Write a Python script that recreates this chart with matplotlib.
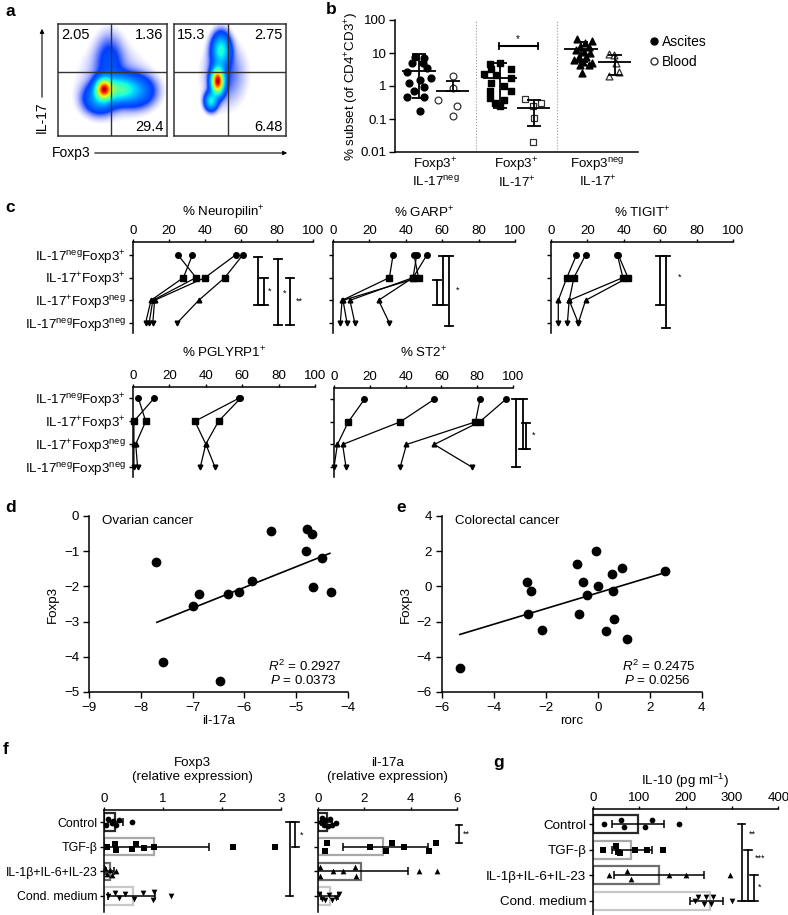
import numpy as np
import matplotlib.pyplot as plt
from matplotlib.lines import Line2D
from matplotlib.patches import FancyArrowPatch

plt.rcParams['font.family'] = ['Liberation Sans', 'DejaVu Sans']
plt.rcParams['mathtext.fontset'] = 'custom'
plt.rcParams['mathtext.rm'] = 'Liberation Sans'
plt.rcParams['mathtext.it'] = 'Liberation Sans:italic'
plt.rcParams['mathtext.default'] = 'regular'
plt.rcParams['font.size'] = 9.5
plt.rcParams['axes.linewidth'] = 1.1
plt.rcParams['xtick.major.width'] = 1.0
plt.rcParams['ytick.major.width'] = 1.0

FS = 9.6

# ---------------- data ----------------
# a: flow plots (quadrant percentages, density blobs cx, cy, sx, sy, weight)
a_left_quads = ['2.05', '1.36', '29.4']
a_right_quads = ['15.3', '2.75', '6.48']
a_left_blobs = [(0.42, 0.42, 0.045, 0.055, 1.0), (0.55, 0.42, 0.10, 0.07, 0.4),
                (0.72, 0.40, 0.11, 0.09, 0.18), (0.47, 0.68, 0.08, 0.15, 0.08),
                (0.38, 0.33, 0.09, 0.08, 0.22), (0.5, 0.5, 0.2, 0.2, 0.04)]
a_right_blobs = [(0.39, 0.49, 0.035, 0.07, 1.0), (0.42, 0.77, 0.05, 0.09, 0.3),
                 (0.33, 0.31, 0.035, 0.05, 0.28), (0.45, 0.55, 0.12, 0.18, 0.05)]

# b: % subset, ascites vs blood
b_groups = ['Foxp3$^{+}$\nIL-17$^{neg}$', 'Foxp3$^{+}$\nIL-17$^{+}$', 'Foxp3$^{neg}$\nIL-17$^{+}$']
b_asc_vals = [[7.7, 6.9, 4.9, 4.9, 3.4, 2.7, 1.8, 1.5, 1.2, 0.95, 0.72, 0.47, 0.47, 0.17],
              [4.6, 4.9, 3.2, 3.2, 2.3, 2.15, 1.7, 1.2, 1.0, 0.72, 0.72, 0.42, 0.38, 0.30, 0.24],
              [26, 20.5, 23.6, 15.5, 15.5, 12.3, 11, 10.2, 7.7, 7.4, 6.1, 5.5, 5.1, 4.3, 4.3, 2.5]]
b_asc_jit = [[-0.25, -0.14, -0.29, -0.16, -0.10, -0.35, -0.06, -0.19, -0.33, -0.14, -0.27, -0.35, -0.14, -0.19],
             [-0.33, -0.20, -0.31, -0.07, -0.40, -0.25, -0.07, -0.32, -0.16, -0.33, -0.07, -0.33, -0.16, -0.27, -0.20],
             [-0.25, -0.15, -0.07, -0.21, -0.11, -0.27, -0.17, -0.09, -0.23, -0.14, -0.29, -0.18, -0.07, -0.21, -0.11, -0.19]]
b_asc_mean = [2.9, 1.7, 13]
b_asc_lo = [0.44, 0.22, 5.5]
b_asc_hi = [9.5, 5.0, 21]
b_bld_vals = [[2.0, 0.9, 0.38, 0.24, 0.12],
              [0.4, 0.3, 0.24, 0.11, 0.02],
              [9.3, 8.7, 4.9, 2.0, 2.7]]
b_bld_jit = [[0.21, 0.21, 0.03, 0.27, 0.21],
             [0.10, 0.30, 0.20, 0.21, 0.20],
             [0.14, 0.20, 0.23, 0.14, 0.26]]
b_bld_mean = [0.72, 0.21, 5.5]
b_bld_lo = [0.72, 0.063, 2.2]
b_bld_hi = [1.45, 0.38, 8.7]

# c: % positive per donor, rows = 4 subsets
c_rows = ['IL-17$^{neg}$Foxp3$^{+}$', 'IL-17$^{+}$Foxp3$^{+}$',
          'IL-17$^{+}$Foxp3$^{neg}$', 'IL-17$^{neg}$Foxp3$^{neg}$']
neuropilin = [[25, 35, 11, 9], [33, 28, 10, 7], [57, 40, 12, 11], [61, 51, 36.5, 24.5]]
neuropilin_br = [(69.6, 0.1, 2.2), (73, 1.0, 2.2), (80.7, 0.2, 3.1), (87, 1.0, 3.1)]
neuropilin_st = [(75, 1.6, '*'), (83, 1.7, '*'), (90.5, 2.05, '**')]
garp = [[33, 31, 5, 4], [44.5, 47, 5.5, 7.7], [51.6, 44, 9.3, 12], [46, 44, 25, 31]]
garp_br = [(57, 1.1, 2.2), (60.5, 0.05, 2.2), (64, 0.05, 3.15)]
garp_st = [(67.5, 1.55, '*')]
tigit = [[14, 8.7, 4, 4], [19, 12.6, 10, 9], [36.5, 39.5, 10, 15], [37, 42.3, 19, 15]]
tigit_br = [(60, 0.05, 2.2), (63, 0.05, 3.2)]
tigit_st = [(69.5, 1.0, '*')]
pglyrp1 = [[3, 7, 1.5, 2.5], [11.5, 0.5, 0.5, 0.5], [58, 34, 40, 45], [59, 47, 40, 37]]
st2 = [[17, 8, 1.9, 0], [56, 37, 4.8, 6.7], [81.6, 79, 40.5, 37], [96, 81.4, 56, 77]]
st2_br = [(101.5, 0.0, 3.0), (105.6, 0.0, 2.2), (107.5, 1.05, 2.2)]
st2_st = [(110.5, 1.6, '*')]

# d: ovarian cancer
d_x = [-7.71, -6.99, -6.87, -6.32, -6.11, -5.85, -5.49, -4.81, -4.80, -4.70, -4.67, -4.50, -4.33, -7.57, -6.48]
d_y = [-1.30, -2.55, -2.23, -2.23, -2.15, -1.84, -0.43, -0.99, -0.38, -0.51, -2.03, -1.18, -2.15, -4.14, -4.68]
d_fit_x = [-7.69, -4.35]
d_fit_y = [-3.02, -1.06]

# e: colorectal cancer
e_x = [-2.71, -2.58, -0.81, -0.58, -0.40, -0.07, 0.01, 0.55, 0.60, 0.93, 2.59, -2.67, -2.15, -0.72, 0.31, 0.62, 1.12, -5.30]
e_y = [0.24, -0.27, 1.25, 0.24, -0.51, 1.99, 0.00, 0.72, -0.27, 1.04, 0.85, -1.59, -2.46, -1.59, -2.54, -1.84, -2.97, -4.62]
e_fit_x = [-5.30, 2.65]
e_fit_y = [-2.73, 0.81]

# f / g: stimulation conditions
conds = ['Control', 'TGF-β', 'IL-1β+IL-6+IL-23', 'Cond. medium']
foxp3_mean = [0.19, 0.84, 0.10, 0.49]
foxp3_lo = [0.06, 0.0, 0.03, 0.07]
foxp3_hi = [0.32, 1.78, 0.17, 0.86]
foxp3_pts = [[0.03, 0.07, 0.13, 0.16, 0.21, 0.26, 0.47],
             [0.05, 0.19, 0.2, 0.47, 0.55, 0.68, 0.85, 2.19, 2.9],
             [0.02, 0.05, 0.1, 0.14, 0.2],
             [0.07, 0.19, 0.26, 0.36, 0.5, 0.66, 0.83, 0.85, 1.13]]
foxp3_jit = [[0.1, -0.12, 0.05, -0.05, 0.12, -0.1, 0.0],
             [0.0, -0.12, 0.12, 0.1, -0.1, 0.05, 0.0, 0.0, 0.0],
             [-0.15, 0.1, -0.05, 0.15, 0.0],
             [0.0, -0.12, 0.1, -0.1, 0.12, -0.12, 0.15, -0.15, 0.0]]
il17_mean = [0.36, 2.82, 1.85, 0.51]
il17_lo = [0.1, 1.05, 0.0, 0.1]
il17_hi = [0.6, 4.75, 3.9, 0.85]
il17_pts = [[0.1, 0.15, 0.25, 0.3, 0.4, 0.5, 0.6, 0.75],
            [0.36, 0.29, 2.25, 2.94, 3.19, 3.72, 4.78, 5.1],
            [0.09, 0.09, 0.62, 1.06, 1.6, 1.65, 4.35, 5.14],
            [0.05, 0.15, 0.3, 0.45, 0.6, 0.75, 0.9]]
il17_jit = [[0.0, -0.15, 0.12, -0.1, 0.15, -0.12, 0.1, 0.05],
            [-0.17, 0.17, 0.0, 0.17, -0.17, 0.0, 0.17, -0.17],
            [-0.17, 0.17, 0.0, 0.0, -0.17, 0.17, 0.0, 0.0],
            [-0.1, 0.12, 0.15, -0.05, 0.15, 0.1, -0.1]]
il10_mean = [97, 82.5, 143, 253]
il10_lo = [41, 41, 46, 210]
il10_hi = [154, 127, 240, 280]
il10_pts = [[24, 62, 67, 113, 128, 187],
            [21.5, 50, 55, 59, 91, 116, 152],
            [35, 73, 83, 164, 201, 296],
            [220, 226, 240, 244, 256, 260, 300]]
il10_jit = [[0.0, -0.16, 0.13, 0.13, -0.16, 0.0],
            [0.0, -0.13, 0.1, 0.13, 0.0, 0.0, 0.0],
            [0.0, -0.15, 0.15, 0.0, 0.0, 0.0],
            [0.0, -0.13, 0.13, -0.13, 0.13, -0.13, 0.0]]

# ---------------- figure ----------------
W, H = 788, 915
fig = plt.figure(figsize=(W / 100, H / 100), dpi=100)


def px_axes(l, t, r, b):
    return fig.add_axes([l / W, 1 - b / H, (r - l) / W, (b - t) / H])


def ftext(x, y, s, **kw):
    fig.text(x / W, 1 - y / H, s, **kw)


def vbracket(ax, x, y0, y1, cap, lw=1.3):
    ax.plot([x, x], [y0, y1], color='k', lw=lw, clip_on=False)
    ax.plot([x - cap, x + cap], [y0, y0], color='k', lw=lw, clip_on=False)
    ax.plot([x - cap, x + cap], [y1, y1], color='k', lw=lw, clip_on=False)


for letter, x, y in [('a', 5, 12), ('b', 326, 10), ('c', 5, 208), ('d', 5, 508),
                     ('e', 396, 507), ('f', 3, 749), ('g', 493, 762)]:
    ftext(x, y, letter, fontsize=12.5, fontweight='bold', va='center', ha='left')

# ---- a
gx, gy = np.meshgrid(np.linspace(0, 1, 220), np.linspace(0, 1, 220))
for box, blobs, quads, gate_x, gate_y in [((58, 24, 167, 136), a_left_blobs, a_left_quads, 0.49, 0.57),
                                          ((174, 24, 286, 136), a_right_blobs, a_right_quads, 0.485, 0.57)]:
    ax = px_axes(*box)
    z = np.zeros_like(gx)
    for cx, cy, sx, sy, w in blobs:
        z += w * np.exp(-0.5 * (((gx - cx) / sx) ** 2 + ((gy - cy) / sy) ** 2))
    z = z / z.max()
    rgba = plt.cm.jet(np.clip(z * 0.82 + 0.14, 0, 1))
    rgba[..., 3] = np.clip((z - 0.006) / 0.05, 0, 1)
    ax.imshow(rgba, origin='lower', extent=(0, 1, 0, 1), aspect='auto')
    ax.axvline(gate_x, color='#333333', lw=1.0)
    ax.axhline(gate_y, color='#333333', lw=1.0)
    ax.set_xlim(0, 1)
    ax.set_ylim(0, 1)
    ax.set_xticks([])
    ax.set_yticks([])
    for sp in ax.spines.values():
        sp.set_color('#333333')
    ax.text(0.03, 0.9, quads[0], transform=ax.transAxes, fontsize=10.5, ha='left', va='center')
    ax.text(0.97, 0.9, quads[1], transform=ax.transAxes, fontsize=10.5, ha='right', va='center')
    ax.text(0.97, 0.08, quads[2], transform=ax.transAxes, fontsize=10.5, ha='right', va='center')

ftext(42, 117, 'IL-17', rotation=90, ha='center', va='center', fontsize=10)
ftext(71, 153, 'Foxp3', ha='center', va='center', fontsize=10)
fig.add_artist(FancyArrowPatch((42 / W, 1 - 100 / H), (42 / W, 1 - 26 / H), transform=fig.transFigure,
                               arrowstyle='-|>', mutation_scale=6, lw=0.8, color='k'))
fig.add_artist(FancyArrowPatch((92 / W, 1 - 153 / H), (290 / W, 1 - 153 / H), transform=fig.transFigure,
                               arrowstyle='-|>', mutation_scale=6, lw=0.8, color='k'))

# ---- b
ax = px_axes(395, 20, 638, 152)
b_markers = ['o', 's', '^']
for i in range(3):
    ax.scatter(np.array(b_asc_jit[i]) + i, b_asc_vals[i], marker=b_markers[i], s=24,
               color='k', zorder=3)
    ax.scatter(np.array(b_bld_jit[i]) + i, b_bld_vals[i], marker=b_markers[i], s=24,
               facecolor='white', edgecolor='#333333', lw=0.9, zorder=3)
    ca = i - 0.2
    ax.hlines(b_asc_mean[i], ca - 0.21, ca + 0.21, color='k', lw=1.3, zorder=4)
    ax.errorbar(ca, b_asc_mean[i], yerr=[[b_asc_mean[i] - b_asc_lo[i]], [b_asc_hi[i] - b_asc_mean[i]]],
                fmt='none', ecolor='k', elinewidth=1.3, capsize=5, capthick=1.3, zorder=4)
    cb = i + 0.21
    ax.hlines(b_bld_mean[i], cb - 0.2, cb + 0.2, color='k', lw=1.3, zorder=4)
    ax.errorbar(cb, b_bld_mean[i], yerr=[[b_bld_mean[i] - b_bld_lo[i]], [b_bld_hi[i] - b_bld_mean[i]]],
                fmt='none', ecolor='k', elinewidth=1.3, capsize=5, capthick=1.3, zorder=4)
for xs in [0.5, 1.5]:
    ax.axvline(xs, color='#999999', lw=0.8, ls=':')
# significance bar
ax.plot([0.79, 1.26], [16.3, 16.3], color='k', lw=1.5)
ax.plot([0.79, 0.79], [13.5, 19.5], color='k', lw=1.3)
ax.plot([1.26, 1.26], [13.5, 19.5], color='k', lw=1.3)
ax.text(1.02, 27, '*', ha='center', va='center', fontsize=7)
ax.set_yscale('log')
ax.set_ylim(0.01, 100)
ax.set_xlim(-0.5, 2.5)
ax.set_yticks([0.01, 0.1, 1, 10, 100])
ax.set_yticklabels(['0.01', '0.1', '1', '10', '100'], fontsize=FS)
ax.yaxis.set_minor_locator(plt.NullLocator())
ax.set_xticks([0, 1, 2])
ax.set_xticklabels(b_groups, fontsize=FS, linespacing=1.1)
ax.tick_params(axis='x', length=0, pad=3)
ax.tick_params(axis='y', length=4, pad=2)
ax.spines[['top', 'right']].set_visible(False)
ftext(352, 86, '% subset (of CD4$^{+}$CD3$^{+}$)', rotation=90, ha='center', va='center', fontsize=FS)
handles = [Line2D([], [], marker='o', ls='none', color='k', ms=5),
           Line2D([], [], marker='o', ls='none', markerfacecolor='white', markeredgecolor='#333333', ms=5)]
fig.legend(handles, ['Ascites', 'Blood'], loc='upper left', bbox_to_anchor=(640 / W, 1 - 28 / H),
           frameon=False, fontsize=10, handletextpad=0.1, handlelength=1.0, labelspacing=0.45,
           borderpad=0)

# ---- c
c_markers = ['o', 's', '^', 'v']
rows = [0, 1, 2, 3]


def c_panel(box, title, title_y, donors, brackets, stars, labels, top):
    ax = px_axes(*box)
    for d in donors:
        ax.plot(d, rows, color='k', lw=0.9, zorder=2)
        for r in rows:
            ax.plot(d[r], r, marker=c_markers[r], color='k', ms=4.0 if r < 2 else 3.4, zorder=3,
                    clip_on=False)
    for x, r0, r1 in brackets:
        vbracket(ax, x, r0, r1, 2.2)
    for x, r, s in stars:
        ax.text(x, r, s, ha='left', va='center', fontsize=6.5)
    ax.set_xlim(0, 100)
    ax.set_ylim(3.44, top)
    ax.xaxis.tick_top()
    ax.set_xticks([0, 20, 40, 60, 80, 100])
    ax.tick_params(axis='x', length=2.5, pad=1.0, labelsize=FS)
    ax.set_yticks(rows)
    ax.tick_params(axis='y', length=3, pad=2)
    if labels:
        ax.set_yticklabels(c_rows, fontsize=FS)
    else:
        ax.set_yticklabels([])
    ax.spines[['bottom', 'right']].set_visible(False)
    ftext((box[0] + box[2]) / 2, title_y, title, ha='center', va='center', fontsize=FS)
    return ax


c_panel((133, 242, 313, 333), '% Neuropilin$^{+}$', 213, neuropilin, neuropilin_br, neuropilin_st, True, -0.57)
c_panel((333, 242, 515, 333), '% GARP$^{+}$', 213, garp, garp_br, garp_st, False, -0.57)
c_panel((551, 242, 733, 333), '% TIGIT$^{+}$', 213, tigit, tigit_br, tigit_st, False, -0.57)
c_panel((133, 387, 315, 477), '% PGLYRP1$^{+}$', 353, pglyrp1, [], [], True, -0.5)
c_panel((334, 388, 513, 477), '% ST2$^{+}$', 353, st2, st2_br, st2_st, False, -0.5)

# ---- d / e
for box, xs, ys, fx, fy, xlim, xt, ylim, yt, name, xlab, r2, pv, tx, ylx in [
        ((89, 516, 348, 692), d_x, d_y, d_fit_x, d_fit_y, (-9, -4), range(-9, -3), (-5, 0), range(-5, 1),
         'Ovarian cancer', 'il-17a', '0.2927', '0.0373', 268, 53),
        ((441.7, 516, 701.7, 692), e_x, e_y, e_fit_x, e_fit_y, (-6, 4), range(-6, 5, 2), (-6, 4), range(-6, 5, 2),
         'Colorectal cancer', 'rorc', '0.2475', '0.0256', 622, 406)]:
    ax = px_axes(*box)
    ax.scatter(xs, ys, s=36, color='k', zorder=3, clip_on=False)
    ax.plot(fx, fy, color='k', lw=1.2)
    ax.set_xlim(*xlim)
    ax.set_ylim(*ylim)
    ax.set_xticks(list(xt))
    ax.set_yticks(list(yt))
    ax.tick_params(labelsize=FS, length=4, pad=3)
    ax.spines[['top', 'right']].set_visible(False)
    ax.text(0.05, 0.97, name, transform=ax.transAxes, fontsize=FS, ha='left', va='center')
    ftext(tx, 666, '$\\mathit{R}^{2}$ = ' + r2, fontsize=FS, ha='left', va='center')
    ftext(tx + 2, 681, '$\\mathit{P}$ = ' + pv, fontsize=FS, ha='left', va='center')
    ftext((box[0] + box[2]) / 2, 721, xlab, fontsize=FS, ha='center', va='center')
    ftext(ylx, 604, 'Foxp3', fontsize=FS, rotation=90, ha='center', va='center')

# ---- f / g
bar_edges = ['#2a2a2a', '#a8a8a8', '#6e6e6e', '#c8c8c8']
bar_markers = ['o', 's', '^', 'v']


def bar_panel(box, means, lo, hi, pts, jit, xlim, xt, ylim, labels, title, title_y, lab_fs=FS):
    ax = px_axes(*box)
    ax.barh(rows, means, height=0.7, facecolor='white', edgecolor=bar_edges, lw=1.6, zorder=1)
    for r in rows:
        ax.scatter(pts[r], np.array(jit[r]) + r, marker=bar_markers[r], s=22 if r == 1 else 17,
                   color='k', zorder=3, clip_on=False, lw=0)
        ax.errorbar(means[r], r, xerr=[[means[r] - lo[r]], [hi[r] - means[r]]], fmt='none',
                    ecolor='k', elinewidth=1.1, capsize=3, capthick=1.1, zorder=4)
    ax.set_xlim(*xlim)
    ax.set_ylim(*ylim)
    ax.xaxis.tick_top()
    ax.set_xticks(xt)
    ax.tick_params(axis='x', length=2.5, pad=1.0, labelsize=FS)
    ax.set_yticks(rows)
    ax.tick_params(axis='y', length=3, pad=1.5)
    if labels:
        ax.set_yticklabels(conds, fontsize=lab_fs)
    else:
        ax.set_yticklabels([])
    ax.spines[['bottom', 'right']].set_visible(False)
    ftext((box[0] + box[2]) / 2, title_y, title, ha='center', va='center', fontsize=FS,
          linespacing=1.25)
    return ax


ax = bar_panel((104, 810, 281, 912), foxp3_mean, foxp3_lo, foxp3_hi, foxp3_pts, foxp3_jit,
               (0, 3), [0, 1, 2, 3], (3.65, -0.49), True, 'Foxp3\n(relative expression)', 770, 8.9)
vbracket(ax, 3.15, 0, 3, 0.06, lw=1.2)
vbracket(ax, 3.24, 0, 1, 0.06, lw=1.2)
ax.text(3.32, 0.55, '*', fontsize=6.5, ha='left', va='center')

ax = bar_panel((318.3, 810, 456.7, 912), il17_mean, il17_lo, il17_hi, il17_pts, il17_jit,
               (0, 6), [0, 2, 4, 6], (3.65, -0.49), False, 'il-17a\n(relative expression)', 770)
vbracket(ax, 6.08, 0.1, 0.85, 0.13, lw=1.2)
ax.text(6.25, 0.5, '**', fontsize=6.5, ha='left', va='center')

ax = bar_panel((592.7, 809, 778.3, 915), il10_mean, il10_lo, il10_hi, il10_pts, il10_jit,
               (0, 400), [0, 100, 200, 300, 400], (3.56, -0.59), True, 'IL-10 (pg ml$^{-1}$)', 781)
vbracket(ax, 321, 0, 3, 8, lw=1.2)
vbracket(ax, 335, 1, 3, 8, lw=1.2)
vbracket(ax, 348, 2, 3, 8, lw=1.2)
ax.text(336, 0.4, '**', fontsize=6.5, ha='left', va='center')
ax.text(350, 1.33, '***', fontsize=6.5, ha='left', va='center')
ax.text(356, 2.47, '*', fontsize=6.5, ha='left', va='center')

fig.savefig('out.png', dpi=100)
